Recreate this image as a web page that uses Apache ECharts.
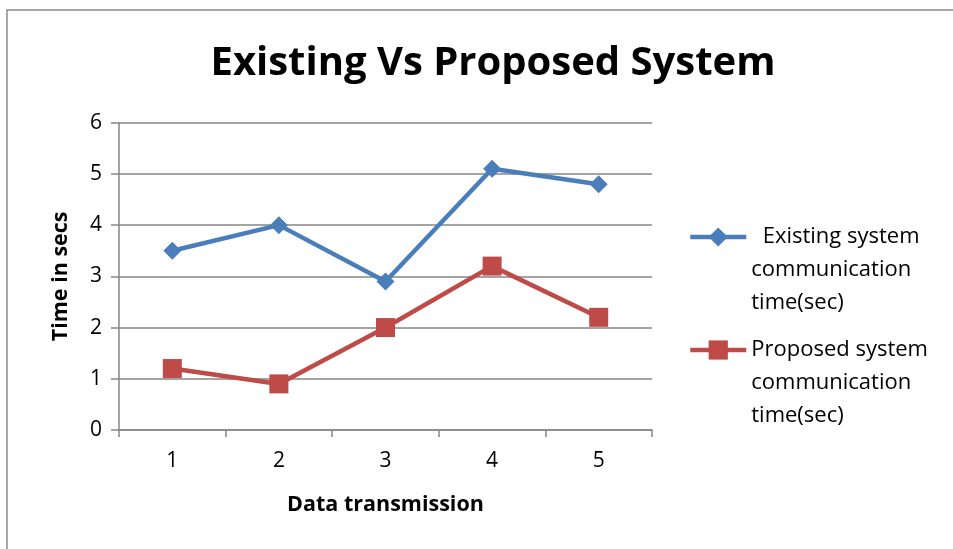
<!DOCTYPE html>
<html>
<head>
<meta charset="utf-8">
<script src="https://cdn.jsdelivr.net/npm/echarts@6/dist/echarts.min.js"></script>
<style>html,body{margin:0;padding:0;background:#fff}#c{width:953px;height:549px}</style>
</head>
<body>
<div id="c"></div>
<script>
const categories = ['1', '2', '3', '4', '5'];
const existing = [3.5, 4.0, 2.9, 5.1, 4.8];
const proposed = [1.2, 0.9, 2.0, 3.2, 2.2];
const seriesNames = ['Existing system communication time(sec)', 'Proposed system communication time(sec)'];
const legendLines = [
  ['  Existing system', 'communication', 'time(sec)'],
  ['Proposed system', 'communication', 'time(sec)']
];
const titleText = 'Existing Vs Proposed System';
const xName = 'Data transmission';
const yName = 'Time in secs';

const FONT = 'Open Sans';
const LH = 33;
function legendFmt(name) {
  const i = seriesNames.indexOf(name);
  // two empty lines first so the first text line sits level with the icon
  return ['', ''].concat(legendLines[i]).join('\n');
}
function makeLegend(i, iconY) {
  return {
    orient: 'vertical', left: 683, top: iconY - LH * 2.5,
    itemWidth: 56, itemHeight: 24, itemGap: 0,
    lineStyle: { width: 4.5 },
    formatter: legendFmt,
    textStyle: { fontFamily: FONT, fontSize: 22, color: '#000', lineHeight: LH },
    data: [seriesNames[i]]
  };
}

const chart = echarts.init(document.getElementById('c'));
chart.setOption({
  backgroundColor: '#fff',
  animation: false,
  title: {
    text: titleText, left: 488, top: 39, textAlign: 'center',
    textStyle: { fontFamily: FONT, fontWeight: 'bold', fontSize: 40, color: '#000' }
  },
  graphic: [{
    type: 'rect', shape: { x: 7, y: 10, width: 1000, height: 600 },
    style: { fill: 'none', stroke: '#8c8c8c', lineWidth: 1.5 }, silent: true, z: -1
  }],
  grid: { left: 119, right: 301, top: 122.7, bottom: 119 },
  legend: [makeLegend(0, 232), makeLegend(1, 345)],
  xAxis: {
    type: 'category', data: categories, boundaryGap: true,
    name: xName, nameLocation: 'middle', nameGap: 64,
    nameTextStyle: { fontFamily: FONT, fontWeight: 'bold', fontSize: 21.5, color: '#000' },
    axisLine: { lineStyle: { color: '#868686', width: 1.5 } },
    axisTick: { show: true, length: 7, lineStyle: { color: '#868686', width: 1.5 } },
    axisLabel: { margin: 21, fontFamily: FONT, fontSize: 21, color: '#000' }
  },
  yAxis: {
    type: 'value', min: 0, max: 6, interval: 1,
    name: yName, nameLocation: 'middle', nameGap: 47,
    nameTextStyle: { fontFamily: FONT, fontWeight: 'bold', fontSize: 21.5, color: '#000' },
    axisLine: { show: true, lineStyle: { color: '#868686', width: 1.5 } },
    axisTick: { show: true, length: 8, lineStyle: { color: '#868686', width: 1.5 } },
    splitLine: { lineStyle: { color: '#868686', width: 1.5 } },
    axisLabel: { margin: 17, fontFamily: FONT, fontSize: 21, color: '#000' }
  },
  series: [
    {
      name: seriesNames[0], type: 'line', data: existing,
      symbol: 'diamond', symbolSize: 18,
      lineStyle: { color: '#4A7EBB', width: 4.5 },
      itemStyle: { color: '#4A7EBB' }
    },
    {
      name: seriesNames[1], type: 'line', data: proposed,
      symbol: 'rect', symbolSize: 19,
      lineStyle: { color: '#BE4B48', width: 4.5 },
      itemStyle: { color: '#BE4B48' }
    }
  ]
});
</script>
</body>
</html>
